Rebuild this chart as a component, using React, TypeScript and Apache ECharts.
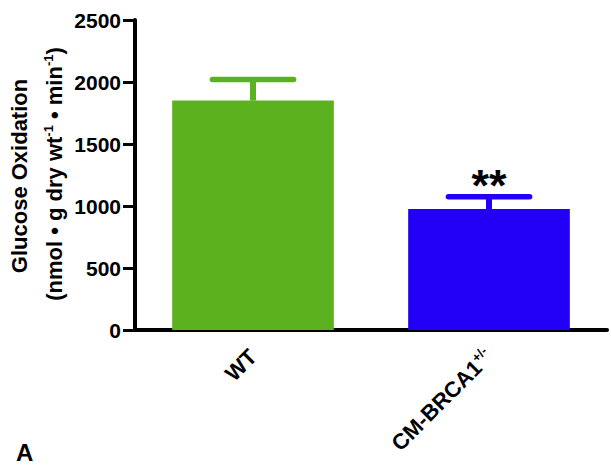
import React, { useEffect, useRef } from "react";
import * as echarts from "echarts";

// Group labels, means and SEM for glucose oxidation
const categories = ["WT", "CM-BRCA1{sup|+/-}"];
const means = [1850, 975];
const sems = [170, 100];
const significance = ["", "**"];
const barColors = ["#5cb21e", "#2200f5"];
const yTicks = { min: 0, max: 2500, interval: 500 };

const FONT = "'Liberation Sans', Arial, Helvetica, sans-serif";

export default function App() {
  const ref = useRef<HTMLDivElement>(null);

  useEffect(() => {
    if (!ref.current) return;
    const chart = echarts.init(ref.current, undefined, { renderer: "svg" });

    const errorData = means.map((m, i) => [i, m, sems[i]]);

    chart.setOption({
      animation: false,
      backgroundColor: "#ffffff",
      grid: { left: 135, right: 4, top: 20, bottom: 137, containLabel: false },
      xAxis: {
        type: "category",
        data: categories,
        axisLine: { lineStyle: { color: "#000", width: 4 } },
        axisTick: {
          alignWithLabel: true,
          length: 10,
          lineStyle: { color: "#000", width: 3 },
        },
        axisLabel: {
          rotate: 45,
          margin: 23,
          color: "#000",
          fontFamily: FONT,
          fontWeight: "bold",
          fontSize: 22,
          rich: {
            sup: {
              fontFamily: FONT,
              fontWeight: "bold",
              fontSize: 13,
              color: "#000",
              verticalAlign: "top",
              padding: [0, 0, 12, 0],
            },
          },
        },
      },
      yAxis: {
        type: "value",
        min: yTicks.min,
        max: yTicks.max,
        interval: yTicks.interval,
        splitLine: { show: false },
        axisLine: { show: true, lineStyle: { color: "#000", width: 4 } },
        axisTick: { show: true, length: 12, lineStyle: { color: "#000", width: 3 } },
        axisLabel: {
          margin: 14,
          color: "#000",
          fontFamily: FONT,
          fontWeight: "bold",
          fontSize: 21,
          formatter: (v: number) => String(v),
        },
      },
      graphic: [
        {
          type: "text",
          x: 19,
          y: 176,
          rotation: Math.PI / 2,
          style: {
            text: "Glucose Oxidation",
            fill: "#000",
            font: `bold 22px ${FONT}`,
            align: "center",
            verticalAlign: "middle",
          },
        },
        {
          type: "text",
          x: 54,
          y: 174,
          rotation: Math.PI / 2,
          style: {
            text: "(nmol • g dry wt{sup|-1} • min{sup|-1})",
            fill: "#000",
            font: `bold 22px ${FONT}`,
            align: "center",
            verticalAlign: "middle",
            rich: {
              sup: {
                fill: "#000",
                font: `bold 13px ${FONT}`,
                verticalAlign: "top",
                padding: [0, 0, 12, 0],
              },
            },
          },
        },
        {
          type: "text",
          left: 16,
          top: 440,
          style: {
            text: "A",
            fill: "#000",
            font: `bold 24px ${FONT}`,
          },
        },
      ],
      series: [
        {
          type: "bar",
          data: means.map((v, i) => ({ value: v, itemStyle: { color: barColors[i] } })),
          barWidth: "68.5%",
          z: 2,
        },
        {
          type: "custom",
          z: 3,
          data: errorData,
          renderItem: (params: any, api: any) => {
            const idx = api.value(0);
            const mean = api.value(1);
            const sem = api.value(2);
            const base = api.coord([idx, mean]);
            const top = api.coord([idx, mean + sem]);
            const halfCap = api.size([1, 0])[0] * 0.172;
            const color = barColors[params.dataIndex];
            const children: any[] = [
              {
                type: "line",
                shape: { x1: base[0], y1: base[1], x2: top[0], y2: top[1] },
                style: { stroke: color, lineWidth: 6 },
              },
              {
                type: "line",
                shape: { x1: top[0] - halfCap, y1: top[1], x2: top[0] + halfCap, y2: top[1] },
                style: { stroke: color, lineWidth: 5.5, lineCap: "round" },
              },
            ];
            const mark = significance[params.dataIndex];
            if (mark) {
              children.push({
                type: "text",
                x: top[0],
                y: top[1] + 11,
                style: {
                  text: mark,
                  fill: "#000",
                  font: `bold 45px ${FONT}`,
                  align: "center",
                  verticalAlign: "bottom",
                },
              });
            }
            return { type: "group", children };
          },
        },
      ],
    });

    return () => chart.dispose();
  }, []);

  return (
    <div
      ref={ref}
      style={{ position: "fixed", left: 0, top: 0, width: 611, height: 467, background: "#fff" }}
    />
  );
}
